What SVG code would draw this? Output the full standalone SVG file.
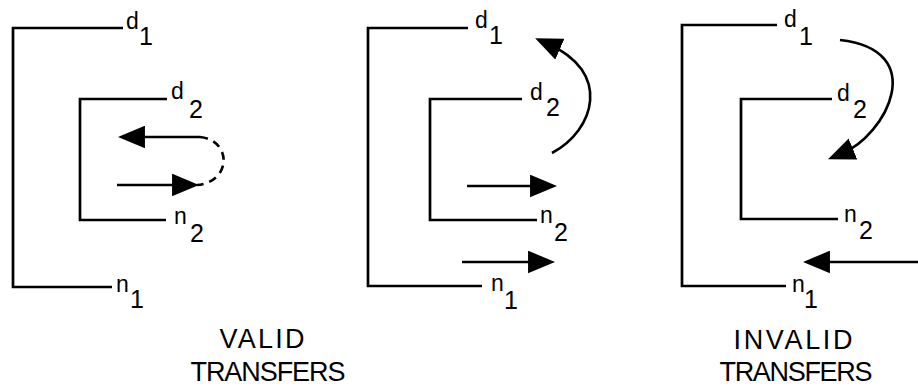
<svg xmlns="http://www.w3.org/2000/svg" width="918" height="386" viewBox="0 0 918 386">
<style>
.br{fill:none;stroke:#000;stroke-width:2.7;stroke-linejoin:miter;stroke-linecap:butt}
.ar{fill:none;stroke:#000;stroke-width:2.6;marker-end:url(#head)}
.dash{fill:none;stroke:#000;stroke-width:2.6;stroke-dasharray:8 6}
.lt{font-family:"Liberation Sans",Arial,sans-serif;font-size:23px;fill:#000}
.dg{font-family:"Liberation Sans",Arial,sans-serif;font-size:25px;fill:#000}
.cap{font-family:"Liberation Sans",Arial,sans-serif;font-size:27px;fill:#000;text-anchor:middle}
</style>
<defs>
<marker id="head" markerUnits="userSpaceOnUse" markerWidth="27" markerHeight="23" refX="12" refY="10.5" orient="auto" viewBox="0 0 25 21">
<path d="M0,0 L25,10.5 L0,21 Z" fill="#000"/>
</marker>
</defs>
<rect width="918" height="386" fill="#fff"/>

<!-- Panel 1 -->
<g id="p1-outer">
<path class="br" d="M123,28 H13 V287 H112"/>
<text class="lt" x="126" y="29">d</text><text class="dg" x="139" y="45">1</text>
<text class="lt" x="116" y="292">n</text><text class="dg" x="130" y="308">1</text>
</g>
<g id="p1-inner">
<path class="br" d="M167,99 H80 V220 H166"/>
<text class="lt" x="171" y="99">d</text><text class="dg" x="189" y="118">2</text>
<text class="lt" x="174" y="224">n</text><text class="dg" x="190" y="242">2</text>
</g>

<!-- Panel 2 -->
<g id="p2-outer">
<path class="br" d="M468,28 H368 V286 H482"/>
<text class="lt" x="475" y="28">d</text><text class="dg" x="489" y="44">1</text>
<text class="lt" x="491" y="291">n</text><text class="dg" x="504" y="309">1</text>
</g>
<g id="p2-inner">
<path class="br" d="M522,99 H430 V220 H537"/>
<text class="lt" x="530" y="100">d</text><text class="dg" x="546" y="116">2</text>
<text class="lt" x="540" y="223">n</text><text class="dg" x="554" y="241">2</text>
</g>

<!-- Panel 3 -->
<g id="p3-outer">
<path class="br" d="M777,25 H682 V286 H786"/>
<text class="lt" x="784" y="27">d</text><text class="dg" x="799" y="45">1</text>
<text class="lt" x="792" y="292">n</text><text class="dg" x="804" y="308">1</text>
</g>
<g id="p3-inner">
<path class="br" d="M832,99 H741 V219 H838"/>
<text class="lt" x="837" y="101">d</text><text class="dg" x="853" y="118">2</text>
<text class="lt" x="844" y="222">n</text><text class="dg" x="859" y="239">2</text>
</g>

<g id="connectors">
<!-- panel 1 -->
<path class="ar" d="M200,137 H132"/>
<path class="ar" d="M117,185 H185"/>
<path class="dash" d="M200,137 C232,140 232,182 197,185"/>
<!-- panel 2 -->
<path class="ar" d="M552,153 C595,130 612,72 548,44"/>
<path class="ar" d="M467,186 H543"/>
<path class="ar" d="M462,262 H541"/>
<!-- panel 3 -->
<path class="ar" d="M840,40 C930,50 887,135 841,154"/>
<path class="ar" d="M920,262 H817"/>
</g>

<g id="captions">
<text class="cap" x="262" y="348" textLength="85" lengthAdjust="spacing">VALID</text>
<text class="cap" x="268" y="381" textLength="155" lengthAdjust="spacing">TRANSFERS</text>
<text class="cap" x="793" y="349" textLength="119" lengthAdjust="spacing">INVALID</text>
<text class="cap" x="796" y="381" textLength="153" lengthAdjust="spacing">TRANSFERS</text>
</g>
</svg>
